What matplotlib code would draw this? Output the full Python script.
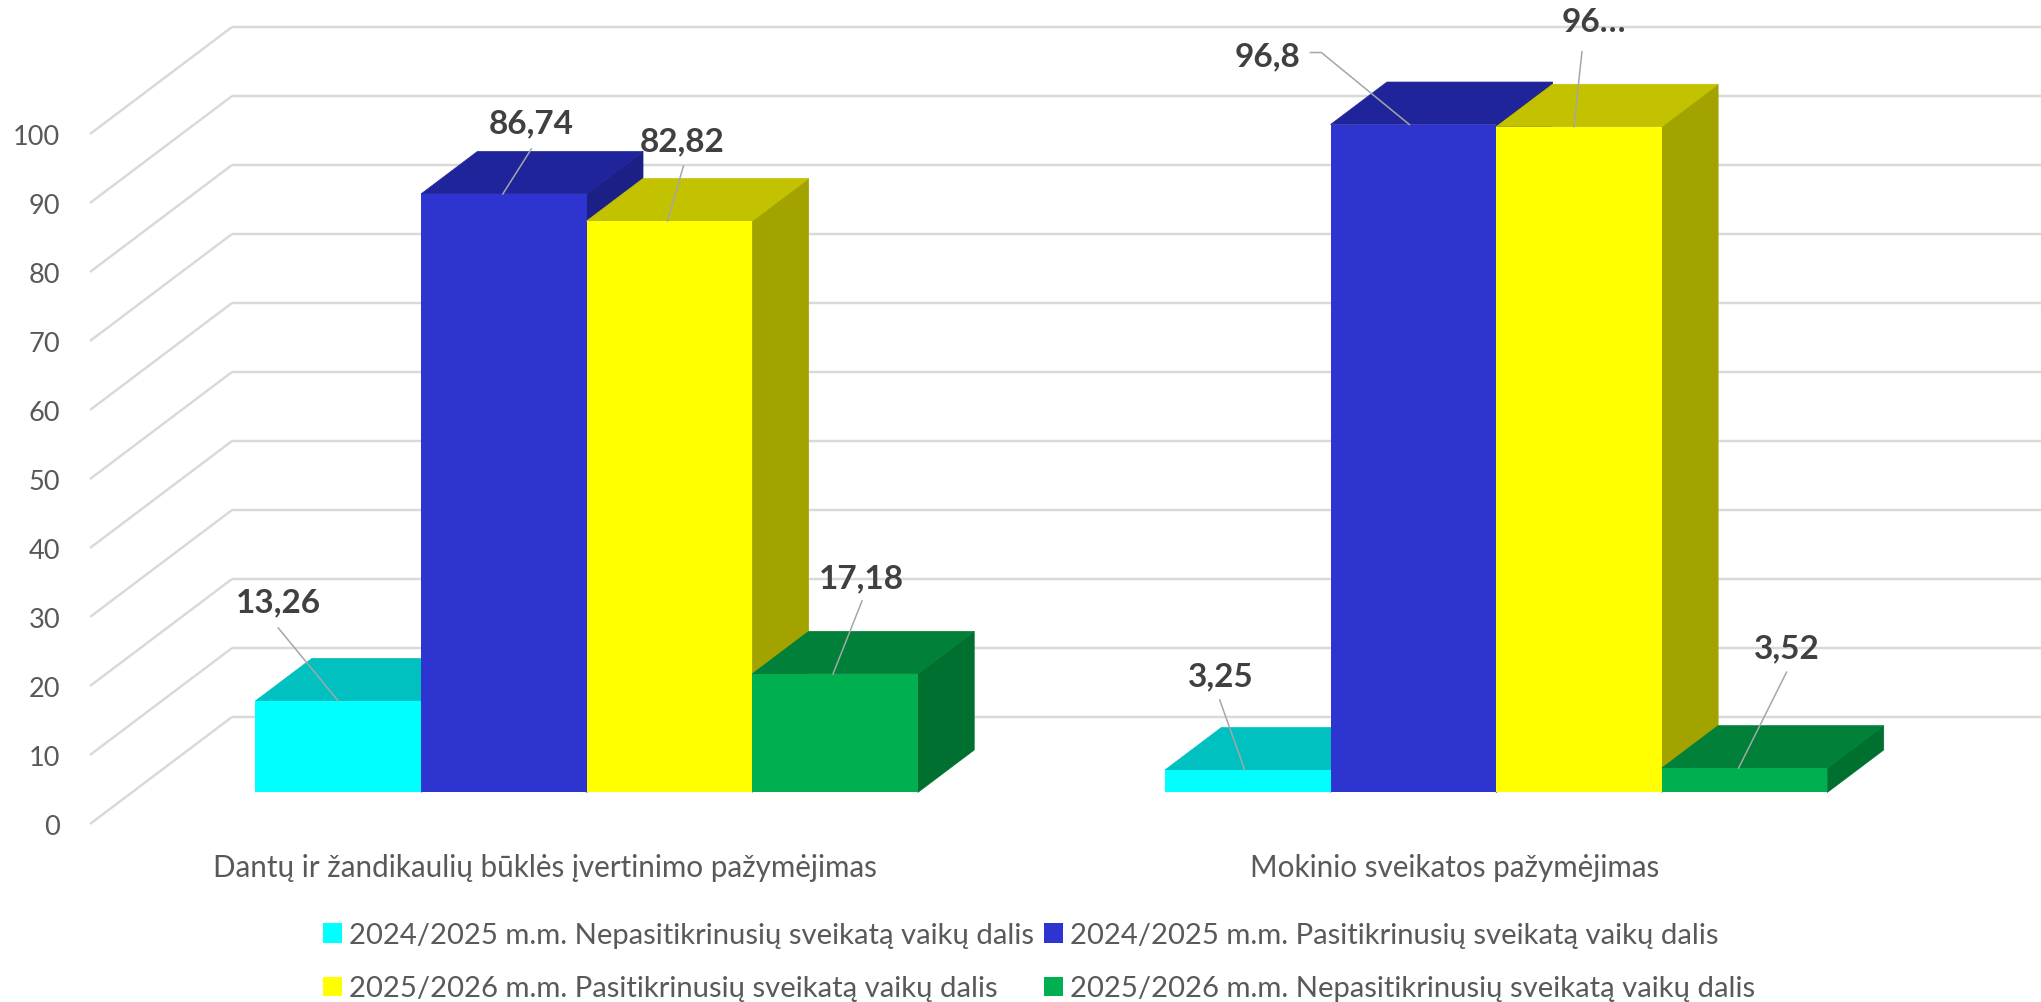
import matplotlib
matplotlib.use("Agg")
import matplotlib.pyplot as plt

plt.rcParams['font.family'] = ['Lato', 'DejaVu Sans']

categories = ["Dantų ir žandikaulių būklės įvertinimo pažymėjimas", "Mokinio sveikatos pažymėjimas"]
series_names = ["2024/2025 m.m. Nepasitikrinusių sveikatą vaikų dalis",
                "2024/2025 m.m. Pasitikrinusių sveikatą vaikų dalis",
                "2025/2026 m.m. Pasitikrinusių sveikatą vaikų dalis",
                "2025/2026 m.m. Nepasitikrinusių sveikatą vaikų dalis"]
unchecked_2425 = [13.26, 3.25]
checked_2425 = [86.74, 96.8]
checked_2526 = [82.82, 96.48]
unchecked_2526 = [17.18, 3.52]
labels_unchecked_2425 = ["13,26", "3,25"]
labels_checked_2425 = ["86,74", "96,8"]
labels_checked_2526 = ["82,82", "96…"]
labels_unchecked_2526 = ["17,18", "3,52"]
yticks = list(range(0, 101, 10))

# styles
front = ["#00FFFF", "#2E34D0", "#FFFF00", "#00B050"]
top = ["#00C0C0", "#20249A", "#C2C200", "#008038"]
side = ["#00A0A0", "#1C1F85", "#A3A300", "#007030"]

W, H = 2041, 1003
fig = plt.figure(figsize=(W / 100, H / 100), dpi=100, facecolor="white")
L, R, B, T = 90, 1909, 825, 135          # front plane of the 3-D box, in pixels
ax = fig.add_axes([L / W, 1 - B / H, (R - L) / W, (B - T) / H])
ax.set_xlim(-0.5, 1.5)
ax.set_ylim(0, 100)
ax.patch.set_visible(False)
for s in ax.spines.values():
    s.set_visible(False)
PX = (R - L) / 2.0     # pixels per category
PY = (B - T) / 100.0   # pixels per value unit
dxw, dyw = 142 / PX, 107 / PY            # full depth of the box (data units)
bar_front, bar_depth = 0.295, 0.397      # bar position inside the depth
bw = 165.6 / PX

# back wall + side wall gridlines
grid = dict(color="#D9D9D9", lw=1.75, zorder=1, clip_on=False, solid_capstyle="butt")
for t in yticks:
    ax.plot([-0.5, -0.5 + dxw], [t, t + dyw], **grid)
    ax.plot([-0.5 + dxw, 1.5 + dxw], [t + dyw, t + dyw], **grid)

ax.set_yticks(yticks)
ax.set_xticks([0, 1], categories)
ax.tick_params(axis="y", length=0, pad=21.5, labelsize=19.5, labelcolor="#595959")
ax.tick_params(axis="x", length=0, pad=21, labelsize=21.3, labelcolor="#595959")

all_values = [unchecked_2425, checked_2425, checked_2526, unchecked_2526]
all_labels = [labels_unchecked_2425, labels_checked_2425, labels_checked_2526, labels_unchecked_2526]

# label centre offset and leader polyline, in pixels from the bar's top-front centre
layout = [
    [((-60, -99), [(-60, -73), (0, 0)]), ((-27, -94), [(-28, -70), (-3, 0)])],
    [((27.5, -71), [(27.5, -45), (-1, 0)]), ((-146, -69), [(-103, -72), (-92, -72), (-4, 0)])],
    [((13, -80), [(14, -55), (-2, 0)]), ((15, -105), [(3, -75), (-5, 0)])],
    [((26, -96), [(27, -73), (-2, 0)]), ((42, -120), [(42, -96), (-6, 0)])],
]

handles = []
xoff = bar_front * dxw
yoff = bar_front * dyw
ddx, ddy = bar_depth * dxw, bar_depth * dyw
for i, (vals, labs) in enumerate(zip(all_values, all_labels)):
    for c, v in enumerate(vals):
        xc = c + xoff + (i - 1.5) * bw
        x0, x1 = xc - bw / 2, xc + bw / 2
        y0, y1 = yoff, yoff + v
        z = 3 + i + c * 10
        ax.fill([x1, x1 + ddx, x1 + ddx, x1], [y0, y0 + ddy, y1 + ddy, y1],
                facecolor=side[i], edgecolor=side[i], lw=0.5, zorder=z, clip_on=False)
        ax.fill([x0, x1, x1 + ddx, x0 + ddx], [y1, y1, y1 + ddy, y1 + ddy],
                facecolor=top[i], edgecolor=top[i], lw=0.5, zorder=z, clip_on=False)
        b = ax.bar([xc], [v], bottom=[y0], width=bw, color=front[i], lw=0, zorder=z,
                   clip_on=False, label=series_names[i] if c == 0 else None)
        if c == 0:
            handles.append(b)
        (tx, ty), leader = layout[i][c]
        ax.plot([xc + p[0] / PX for p in leader], [y1 - p[1] / PY for p in leader],
                color="#A6A6A6", lw=1.1, zorder=50, clip_on=False)
        ax.text(xc + tx / PX, y1 - ty / PY, labs[c], ha="center", va="center",
                fontsize=24, fontweight="bold", color="#404040", zorder=60, clip_on=False)

order = [0, 2, 1, 3]
fs = 21.1
fpx = fs * 100 / 72
leg = fig.legend([handles[k] for k in order], [series_names[k] for k in order], ncol=2,
                 loc="lower left", bbox_to_anchor=(323 / W, 0.5 / H),
                 frameon=False, fontsize=fs, labelcolor="#595959",
                 handlelength=18.5 / fpx, handleheight=18.5 / fpx, handletextpad=7.5 / fpx,
                 columnspacing=10 / fpx, labelspacing=0.93, borderpad=0, borderaxespad=0)

fig.savefig("out.png", dpi=100, facecolor="white")
